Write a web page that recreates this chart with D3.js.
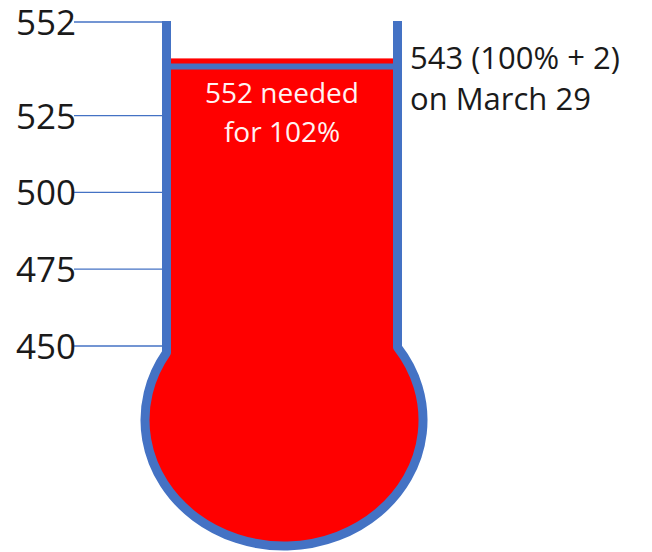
<!DOCTYPE html>
<html>
<head>
<meta charset="utf-8">
<script src="https://cdn.jsdelivr.net/npm/d3@7"></script>
<style>
  html, body { margin: 0; padding: 0; background: #fff; }
  svg { display: block; }
</style>
</head>
<body>
<div id="chart"></div>
<script>
// values
const tickValues = [450, 475, 500, 525, 552];
const currentCount = 543;      // red level
const fullCount = 541;         // 100% mark (blue line)
const goalCount = 552;
const sideLabel = ["543 (100% + 2)", "on March 29"];
const innerLabel = ["552 needed", "for 102%"];

const W = 652, H = 552;
const BLUE = "#4472C4", RED = "#FF0000", INK = "#1a1a1a";
const FONT = "'Open Sans', 'Noto Sans', sans-serif";

const tubeTop = 21;
const leftWallX = 166.5, rightWallX = 397.5, wallW = 9;
const bulb = { cx: 284, cy: 420, rx: 139, ry: 126 };

// the sketch is not quite to scale near the top, so a piecewise scale
const y = d3.scaleLinear()
  .domain([450, fullCount, goalCount])
  .range([346, 66.5, 22]);

const svg = d3.select("#chart")
  .append("svg")
  .attr("width", W)
  .attr("height", H)
  .attr("viewBox", [0, 0, W, H]);

// where a wall meets the bulb outline
function junctionY(x) {
  const t = (x - bulb.cx) / bulb.rx;
  return bulb.cy - bulb.ry * Math.sqrt(1 - t * t);
}
const leftJ = junctionY(leftWallX);
const rightJ = junctionY(rightWallX);

// red fill: bulb + column up to current level
svg.append("ellipse")
  .attr("cx", bulb.cx)
  .attr("cy", bulb.cy)
  .attr("rx", bulb.rx)
  .attr("ry", bulb.ry)
  .attr("fill", RED);

svg.append("rect")
  .attr("x", leftWallX)
  .attr("y", y(currentCount))
  .attr("width", rightWallX - leftWallX)
  .attr("height", bulb.cy - y(currentCount))
  .attr("fill", RED);

// 100% line
svg.append("line")
  .attr("x1", leftWallX)
  .attr("x2", rightWallX)
  .attr("y1", y(fullCount))
  .attr("y2", y(fullCount))
  .attr("stroke", BLUE)
  .attr("stroke-width", 6);

// glass outline
svg.append("path")
  .attr("d", `M${leftWallX},${tubeTop} L${leftWallX},${leftJ} A${bulb.rx},${bulb.ry} 0 1 0 ${rightWallX},${rightJ} L${rightWallX},${tubeTop}`)
  .attr("fill", "none")
  .attr("stroke", BLUE)
  .attr("stroke-width", wallW)
  .attr("stroke-linejoin", "round");

// ticks on the left
const gTicks = svg.append("g");

gTicks.selectAll("line")
  .data(tickValues)
  .join("line")
  .attr("x1", 74)
  .attr("x2", leftWallX - wallW / 2)
  .attr("y1", d => y(d))
  .attr("y2", d => y(d))
  .attr("stroke", BLUE)
  .attr("stroke-width", 1.3);

gTicks.selectAll("text")
  .data(tickValues)
  .join("text")
  .attr("x", 76)
  .attr("y", d => y(d))
  .attr("dy", "0.37em")
  .attr("text-anchor", "end")
  .attr("font-family", FONT)
  .attr("font-size", 35)
  .attr("fill", INK)
  .text(d => d);

// label right of the tube
svg.append("g")
  .selectAll("text")
  .data(sideLabel)
  .join("text")
  .attr("x", 410)
  .attr("y", (d, i) => 69 + i * 41)
  .attr("font-family", FONT)
  .attr("font-size", 31)
  .attr("fill", INK)
  .text(d => d);

// label inside the column
svg.append("g")
  .selectAll("text")
  .data(innerLabel)
  .join("text")
  .attr("x", (leftWallX + rightWallX) / 2)
  .attr("y", (d, i) => 103 + i * 39)
  .attr("text-anchor", "middle")
  .attr("font-family", FONT)
  .attr("font-size", 28)
  .attr("fill", "#fff2f2")
  .text(d => d);
</script>
</body>
</html>
